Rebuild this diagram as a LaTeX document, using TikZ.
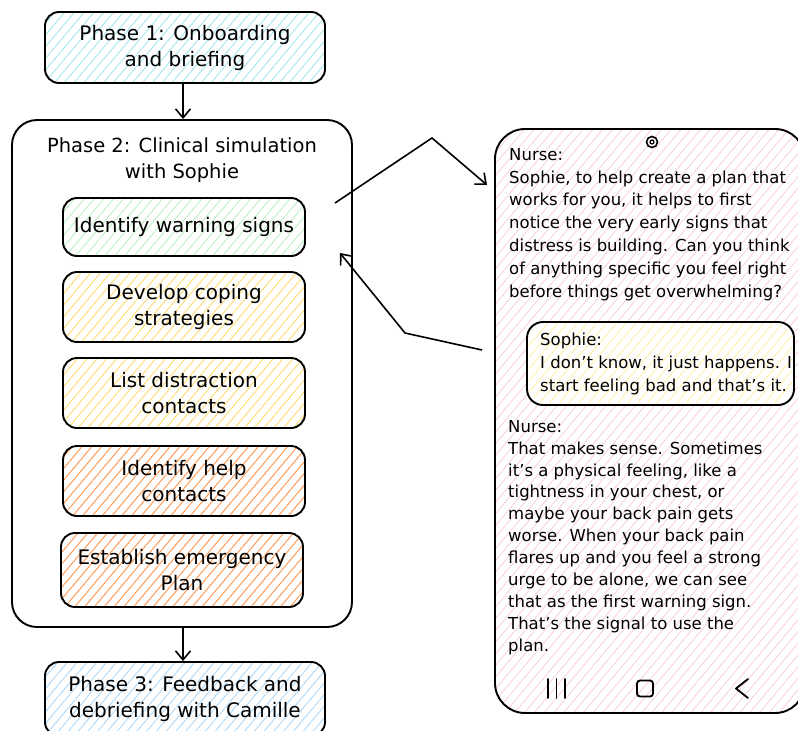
\documentclass[tikz,border=0pt]{standalone}
\usepackage{fontspec}
\setmainfont{DejaVu Sans}
\usetikzlibrary{arrows.meta,patterns.meta,calc}
\definecolor{hcyan}{HTML}{A6E6EE}
\definecolor{hgreen}{HTML}{BDF0C6}
\definecolor{hyellow}{HTML}{FFDC70}
\definecolor{horange}{HTML}{FF9548}
\definecolor{hblue}{HTML}{AFD9FA}
\definecolor{hpink}{HTML}{FAD2E0}
\definecolor{hlyellow}{HTML}{FFF2A8}
\begin{document}
\begin{tikzpicture}[x=1pt,y=-1pt,
  outl/.style={draw=black, line width=1.9pt},
  box/.style={outl, rounded corners=14pt, align=center, inner sep=0pt,
    font=\fontsize{20}{26}\selectfont},
  hatch/.style={pattern={Lines[angle=50,distance=7.5pt,line width=0.9pt]}, pattern color=#1},
  conn/.style={line width=1.6pt, -{Straight Barb[length=9pt,width=15pt,line width=1.6pt]}},
  ptext/.style={inner sep=0pt, align=left, anchor=north west,
    font=\fontsize{16.5}{22.8}\selectfont},
  navline/.style={line width=1.8pt, line cap=round, line join=round}
]
\clip (0,0) rectangle (798,731);
\fill[white] (0,0) rectangle (798,731);

% left column
\node[box, hatch=hcyan, minimum width=280pt, minimum height=71pt] (p1) at (185,47.5)
  {Phase 1: Onboarding\\and briefing};
\node[outl, rounded corners=25pt, minimum width=340pt, minimum height=507pt, inner sep=0pt] (p2) at (182,373.5) {};
\node[align=center, inner sep=0pt, font=\fontsize{19.5}{26}\selectfont] (p2t) at (182,160)
  {Phase 2: Clinical simulation\\with Sophie};
\node[box, hatch=hgreen, minimum width=242pt, minimum height=58pt] (warn) at (184,227)
  {Identify warning signs};
\node[box, hatch=hyellow, minimum width=242pt, minimum height=70pt] (cope) at (184,307)
  {Develop coping\\strategies};
\node[box, hatch=hyellow, minimum width=242pt, minimum height=70pt] (dist) at (184,393)
  {List distraction\\contacts};
\node[box, hatch=horange, minimum width=242pt, minimum height=70pt] (help) at (184,481)
  {Identify help\\contacts};
\node[box, hatch=horange, minimum width=242pt, minimum height=74pt] (emerg) at (182,570)
  {Establish emergency\\Plan};
\node[box, hatch=hblue, minimum width=280pt, minimum height=74pt] (p3) at (185,699)
  {Phase 3: Feedback and\\debriefing with Camille};

\draw[conn] (p1.south -| 183,0) -- (p2.north -| 183,0);
\draw[conn] (p2.south -| 183,0) -- (p3.north -| 183,0);

% phone
\node[outl, rounded corners=30pt, hatch=hpink, minimum width=310pt, minimum height=584pt, inner sep=0pt] (phone) at (650,421) {};
\node[draw=black, line width=1.6pt, circle, minimum size=11pt, inner sep=0pt] (cam) at (652,142) {};
\node[draw=black, line width=1.2pt, circle, minimum size=4pt, inner sep=0pt] (camin) at (cam.center) {};

\node[ptext] (n1) at (509,148)
  {Nurse:\\Sophie, to help create a plan that\\works for you, it helps to first\\notice the very early signs that\\distress is building. Can you think\\of anything specific you feel right\\before things get overwhelming?};

\node[outl, rounded corners=16pt, fill=white, minimum width=267pt, minimum height=83pt, inner sep=0pt] (sbub) at (660.5,363.5) {};
\node[draw=none, rounded corners=16pt, hatch=hlyellow, minimum width=263pt, minimum height=79pt, inner sep=0pt] (sbubh) at (sbub.center) {};
\node[ptext] (s1) at (540,333)
  {Sophie:\\I don't know, it just happens. I\\start feeling bad and that's it.};

\node[ptext, font=\fontsize{16.5}{21.9}\selectfont] (n2) at (508,420)
  {Nurse:\\That makes sense. Sometimes\\it's a physical feeling, like a\\tightness in your chest, or\\maybe your back pain gets\\worse. When your back pain\\flares up and you feel a strong\\urge to be alone, we can see\\that as the first warning sign.\\That's the signal to use the\\plan.};

% nav bar
\coordinate (nb1) at (548,679);
\draw[navline] (nb1) -- ++(0,19) (556.5,679) -- ++(0,19) (565,679) -- ++(0,19);
\node[draw=black, line width=1.8pt, rounded corners=3pt, minimum width=16pt, minimum height=16pt, inner sep=0pt] (home) at (645,688.5) {};
\coordinate (bk1) at (748,679);
\coordinate (bk2) at (736,688.5);
\coordinate (bk3) at (748,698);
\draw[navline] (bk1) -- (bk2) -- (bk3);

% connectors between phase 2 and phone
\coordinate (a1s) at (335,203);
\coordinate (a1m) at (432,138);
\coordinate (a1e) at (487,185);
\draw[conn] (a1s) -- (a1m) -- (a1e);
\coordinate (a2s) at (482,350);
\coordinate (a2m) at (405,333);
\coordinate (a2e) at (340,253);
\draw[conn] (a2s) -- (a2m) -- (a2e);
\end{tikzpicture}
\end{document}
